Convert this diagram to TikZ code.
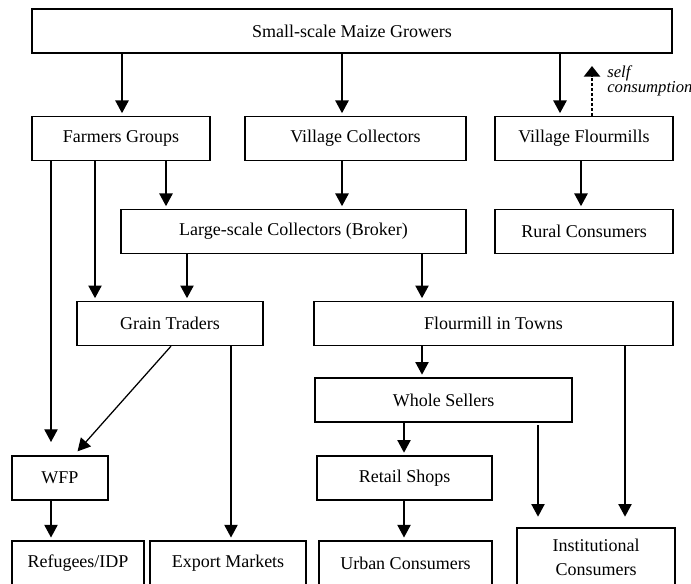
\documentclass[tikz,border=0pt]{standalone}
\usepackage{fontspec}
\setmainfont{Liberation Serif}
\usetikzlibrary{arrows.meta}

\begin{document}
\begin{tikzpicture}[x=0.75pt, y=-0.75pt,
    box/.style={draw, line width=1pt, minimum height=33pt, inner sep=0pt,
      font=\fontsize{13.5}{18}\selectfont},
    flow/.style={line width=0.95pt, -{Triangle[width=10pt,length=9.5pt]}, shorten >=2pt},
    selfuse/.style={line width=2pt, dash pattern=on 2.2pt off 1.5pt,
      -{Triangle[width=12pt,length=8pt]}}]
    \useasboundingbox (0,0) rectangle (691,584);

    % boxes
    \node[box, minimum width=480pt] (grow) at (352,31) {Small-scale Maize Growers};
    \node[box, minimum width=133.5pt] (fg) at (121,138.5) {Farmers Groups};
    \node[box, minimum width=165.75pt] (vc) at (355.5,138.5) {Village Collectors};
    \node[box, minimum width=133.5pt] (vf) at (584,138.5) {Village Flourmills};
    \node[box, minimum width=258.75pt] (lsc) at (293.5,231.5) {Large-scale Collectors (Broker)};
    \node[box, minimum width=133.5pt] (rc) at (584,231.5) {Rural Consumers};
    \node[box, minimum width=139.5pt] (gt) at (170,323.5) {Grain Traders};
    \node[box, minimum width=269.25pt] (fit) at (493.5,323.5) {Flourmill in Towns};
    \node[box, minimum width=192.75pt] (ws) at (443.5,400) {Whole Sellers};
    \node[box, minimum width=72pt] (wfp) at (60,478) {WFP};
    \node[box, minimum width=131.25pt] (rs) at (404.5,478) {Retail Shops};
    \node[box, minimum width=99pt, minimum height=34pt] (ref) at (78,563.5) {Refugees/IDP};
    \node[box, minimum width=117pt, minimum height=34pt] (exp) at (228,563.5) {Export Markets};
    \node[box, minimum width=129.75pt, minimum height=34pt] (uc) at (405.5,563.5) {Urban Consumers};
    \node[box, minimum width=118.5pt, minimum height=43.5pt, align=center] (ic) at (596,557)
      {Institutional\\Consumers};

    % self consumption
    \coordinate (selftop) at (592,66);
    \node[anchor=north west, inner sep=0pt, align=left,
      font=\itshape\fontsize{12.5}{11}\selectfont] (selfc) at (607,66) {self\\consumption};

    % flows
    \draw[flow] (grow.south -| 122,0) -- (fg.north -| 122,0);
    \draw[flow] (grow.south -| 342,0) -- (vc.north -| 342,0);
    \draw[flow] (grow.south -| 560,0) -- (vf.north -| 560,0);
    \draw[selfuse] (vf.north -| 592,0) -- (selftop);
    \draw[flow] (fg.south -| 166,0) -- (lsc.north -| 166,0);
    \draw[flow] (fg.south -| 95,0) -- (gt.north -| 95,0);
    \draw[flow, shorten >=10pt] (fg.south -| 51,0) -- (wfp.north -| 51,0);
    \draw[flow] (vc.south -| 342,0) -- (lsc.north -| 342,0);
    \draw[flow] (vf.south -| 581,0) -- (rc.north -| 581,0);
    \draw[flow] (lsc.south -| 187,0) -- (gt.north -| 187,0);
    \draw[flow] (lsc.south -| 422,0) -- (fit.north -| 422,0);
    \draw[flow, shorten >=4pt] (gt.south -| 171,0) -- (wfp.north -| 74,0);
    \draw[flow] (gt.south -| 231,0) -- (exp.north -| 231,0);
    \draw[flow] (fit.south -| 422,0) -- (ws.north -| 422,0);
    \draw[flow, shorten >=8pt] (fit.south -| 625,0) -- (ic.north -| 625,0);
    \draw[flow, shorten <=2pt, shorten >=8pt] (ws.south -| 538,0) -- (ic.north -| 538,0);
    \draw[flow] (ws.south -| 404,0) -- (rs.north -| 404,0);
    \draw[flow] (rs.south -| 404,0) -- (uc.north -| 404,0);
    \draw[flow] (wfp.south -| 51,0) -- (ref.north -| 51,0);
\end{tikzpicture}
\end{document}
